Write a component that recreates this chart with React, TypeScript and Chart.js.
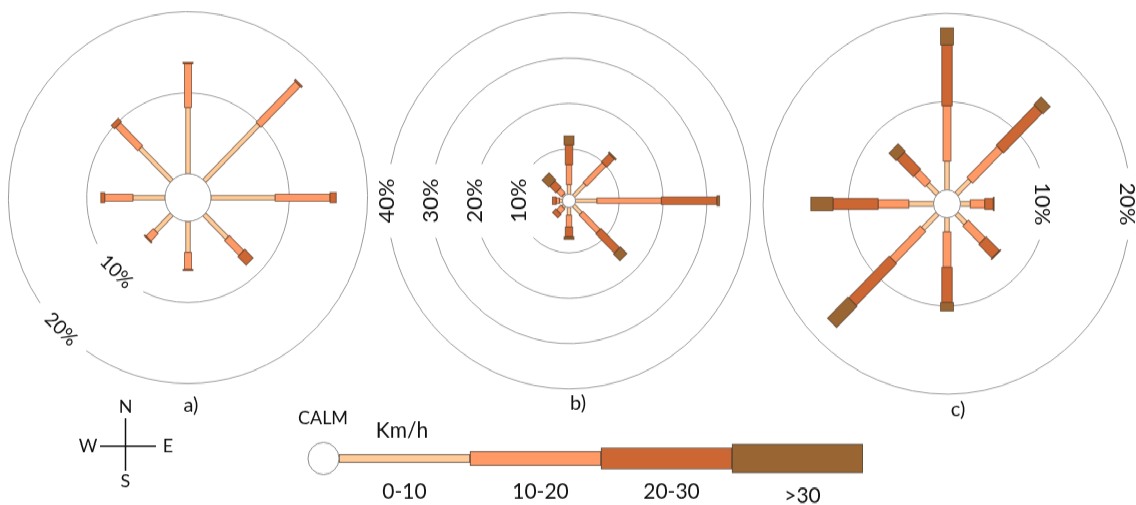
import { useEffect, useRef } from 'react';
import { Chart, registerables } from 'chart.js';

Chart.register(...registerables);

// ---------- data ----------
const DIRECTIONS = ['N', 'NE', 'E', 'SE', 'S', 'SW', 'W', 'NW'];
const SPEED_CLASSES = ['0-10', '10-20', '20-30', '>30'];
const CLASS_COLORS = ['#FFCC99', '#FF9966', '#CC6633', '#996633'];

// frequency (%) per direction (N, NE, E, SE, S, SW, W, NW) and speed class
const ROSE_A_0_10 = [8.2, 9.8, 8.2, 4.1, 3.8, 2.9, 4.1, 5.7];
const ROSE_A_10_20 = [5.4, 7.1, 7.0, 2.6, 2.1, 1.3, 3.6, 4.0];
const ROSE_A_20_30 = [0.2, 0.2, 0.8, 1.5, 0.15, 0.15, 0.5, 0.6];
const ROSE_A_OVER_30 = [0, 0, 0, 0, 0, 0, 0, 0];

const ROSE_B_0_10 = [2.1, 3.65, 4.9, 2.4, 1.7, 0.5, 0.7, 0.4];
const ROSE_B_10_20 = [4.4, 6.2, 14.7, 5.6, 2.6, 1.4, 0.75, 1.5];
const ROSE_B_20_30 = [4.3, 2.5, 12.7, 6.0, 2.2, 1.1, 0.85, 2.0];
const ROSE_B_OVER_30 = [2.05, 0.3, 0.6, 2.1, 0.5, 0, 0, 2.2];

const ROSE_C_0_10 = [3.25, 2.2, 1.15, 1.5, 1.6, 2.4, 2.9, 1.6];
const ROSE_C_10_20 = [6.3, 5.0, 1.7, 2.8, 4.0, 5.0, 3.6, 1.8];
const ROSE_C_20_30 = [6.9, 6.4, 1.0, 2.2, 4.0, 6.7, 5.3, 2.7];
const ROSE_C_OVER_30 = [1.9, 1.2, 0.1, 0.1, 0.95, 3.4, 2.6, 1.2];

const RINGS_A = [10, 20];
const RINGS_B = [10, 20, 30, 40];
const RINGS_C = [10, 20];

const LEGEND_SPAN = [10, 10, 10, 10];
const ROSE_NAMES = ['a)', 'b)', 'c)'];
const COMPASS = ['N', 'E', 'S', 'W'];

// ---------- styles ----------
const FONT = 'Lato, "Open Sans", sans-serif';
const RING_COLOR = '#9c9c9c';
const BAR_EDGE = 'rgba(70,45,30,0.6)';

type RoseCfg = {
  min: number;
  max: number;
  rings: number[];
  widths: number[];
  labelAngle: number;
  labelRotation: number;
  labelFont: number;
  labelShift: number;
};

function rosePlugin(cfg: RoseCfg) {
  return {
    id: 'windRose',
    afterDatasetsDraw(chart: any) {
      const scale = chart.scales.r;
      const ctx = chart.ctx as CanvasRenderingContext2D;
      const cx = scale.xCenter;
      const cy = scale.yCenter;
      ctx.save();
      ctx.font = `${cfg.labelFont}px ${FONT}`;
      const a = ((cfg.labelAngle - 90) * Math.PI) / 180;
      cfg.rings.forEach((v) => {
        const r = scale.getDistanceFromCenterForValue(v);
        const label = v + '%';
        const tw = ctx.measureText(label).width;
        const half = Math.asin(Math.min(1, (tw / 2 + 14) / r));
        ctx.beginPath();
        ctx.arc(cx, cy, r, a + half, a - half + 2 * Math.PI);
        ctx.strokeStyle = RING_COLOR;
        ctx.lineWidth = 1;
        ctx.stroke();
        const rl = r + cfg.labelShift;
        ctx.save();
        ctx.translate(cx + rl * Math.cos(a), cy + rl * Math.sin(a));
        ctx.rotate((cfg.labelRotation * Math.PI) / 180);
        ctx.fillStyle = '#111';
        ctx.textAlign = 'center';
        ctx.textBaseline = 'middle';
        ctx.fillText(label, 0, 0);
        ctx.restore();
      });
      const n = chart.data.labels.length;
      for (let i = 0; i < n; i++) {
        let cum = 0;
        chart.data.datasets.forEach((ds: any, j: number) => {
          const v = ds.data[i];
          if (!v) return;
          const p0 = scale.getPointPositionForValue(i, cum);
          const p1 = scale.getPointPositionForValue(i, cum + v);
          cum += v;
          const len = Math.hypot(p1.x - p0.x, p1.y - p0.y);
          const ang = Math.atan2(p1.y - p0.y, p1.x - p0.x);
          const w = cfg.widths[j];
          ctx.save();
          ctx.translate(p0.x, p0.y);
          ctx.rotate(ang);
          ctx.fillStyle = CLASS_COLORS[j];
          ctx.fillRect(0, -w / 2, len, w);
          ctx.strokeStyle = BAR_EDGE;
          ctx.lineWidth = 1;
          ctx.strokeRect(0, -w / 2, len, w);
          ctx.restore();
        });
      }
      const r0 = scale.getDistanceFromCenterForValue(0);
      ctx.beginPath();
      ctx.arc(cx, cy, r0, 0, 2 * Math.PI);
      ctx.fillStyle = '#fff';
      ctx.fill();
      ctx.strokeStyle = '#8c8c8c';
      ctx.lineWidth = 1;
      ctx.stroke();
      ctx.restore();
    },
  };
}

function makeRose(canvas: HTMLCanvasElement, series: number[][], cfg: RoseCfg) {
  return new Chart(canvas, {
    type: 'radar',
    data: {
      labels: DIRECTIONS,
      datasets: SPEED_CLASSES.map((name, j) => ({
        label: name,
        data: series[j],
        borderColor: 'transparent',
        backgroundColor: 'transparent',
        pointRadius: 0,
        pointHoverRadius: 0,
        showLine: false,
        fill: false,
      })),
    },
    options: {
      animation: false,
      responsive: false,
      devicePixelRatio: 1,
      events: [],
      layout: { padding: 0 },
      plugins: { legend: { display: false }, tooltip: { enabled: false } },
      scales: {
        r: {
          min: cfg.min,
          max: cfg.max,
          beginAtZero: false,
          grid: { display: false },
          angleLines: { display: false },
          pointLabels: { display: false },
          ticks: { display: false },
        },
      },
    } as any,
    plugins: [rosePlugin(cfg)],
  });
}

const legendPlugin = {
  id: 'legendExtras',
  afterDraw(chart: any) {
    const ctx = chart.ctx as CanvasRenderingContext2D;
    const xs = chart.scales.x;
    const ys = chart.scales.y;
    const yc = ys.getPixelForValue(0);
    ctx.save();
    // calm circle
    const rc = 15.5;
    ctx.beginPath();
    ctx.arc(xs.getPixelForValue(0) - rc, yc, rc, 0, 2 * Math.PI);
    ctx.fillStyle = '#fff';
    ctx.fill();
    ctx.strokeStyle = '#8c8c8c';
    ctx.lineWidth = 1;
    ctx.stroke();
    ctx.fillStyle = '#111';
    ctx.textAlign = 'center';
    ctx.textBaseline = 'middle';
    ctx.font = `18px ${FONT}`;
    ctx.fillText('CALM', 323, 34);
    ctx.font = `21px ${FONT}`;
    ctx.fillText('Km/h', 402, 46);
    ctx.font = `21px ${FONT}`;
    let acc = 0;
    SPEED_CLASSES.forEach((name, j) => {
      const mid = acc + LEGEND_SPAN[j] / 2;
      acc += LEGEND_SPAN[j];
      ctx.fillText(name, xs.getPixelForValue(mid) + (j === 0 ? 0 : 5), j === 3 ? 109 : 105);
    });
    // sub-figure names
    ctx.font = `20px ${FONT}`;
    const namePos = [
      [191, 22],
      [578, 20],
      [958, 26],
    ];
    ROSE_NAMES.forEach((t, i) => ctx.fillText(t, namePos[i][0], namePos[i][1]));
    // compass
    ctx.strokeStyle = '#111';
    ctx.lineWidth = 1.5;
    ctx.beginPath();
    ctx.moveTo(125.5, 34);
    ctx.lineTo(125.5, 85);
    ctx.moveTo(100, 61);
    ctx.lineTo(156, 61);
    ctx.stroke();
    ctx.font = `18px ${FONT}`;
    const cp = [
      [125.5, 23],
      [168, 61],
      [125.5, 95],
      [88, 61],
    ];
    COMPASS.forEach((t, i) => ctx.fillText(t, cp[i][0], cp[i][1]));
    ctx.restore();
  },
};

function makeLegend(canvas: HTMLCanvasElement) {
  const thick = [8, 14, 21, 28];
  return new Chart(canvas, {
    type: 'bar',
    data: {
      labels: ['Km/h'],
      datasets: SPEED_CLASSES.map((name, j) => ({
        label: name,
        data: [LEGEND_SPAN[j]],
        backgroundColor: CLASS_COLORS[j],
        borderColor: 'rgba(50,35,25,0.85)',
        borderWidth: 1,
        borderSkipped: false,
        barThickness: thick[j],
      })),
    },
    options: {
      animation: false,
      responsive: false,
      devicePixelRatio: 1,
      events: [],
      indexAxis: 'y',
      layout: { padding: { left: 339, right: 273, top: 53, bottom: 25 } },
      plugins: { legend: { display: false }, tooltip: { enabled: false } },
      scales: {
        x: { stacked: true, min: 0, max: 40, display: false },
        y: { stacked: true, display: false },
      },
    } as any,
    plugins: [legendPlugin],
  });
}

export default function App() {
  const aRef = useRef<HTMLCanvasElement>(null);
  const bRef = useRef<HTMLCanvasElement>(null);
  const cRef = useRef<HTMLCanvasElement>(null);
  const lRef = useRef<HTMLCanvasElement>(null);

  useEffect(() => {
    const charts = [
      makeRose(aRef.current!, [ROSE_A_0_10, ROSE_A_10_20, ROSE_A_20_30, ROSE_A_OVER_30], {
        min: -23 / 7.83,
        max: (190 - 23) / 7.83,
        rings: RINGS_A,
        widths: [4.5, 7, 10, 13],
        labelAngle: 225,
        labelRotation: 45,
        labelFont: 19,
        labelShift: 0,
      }),
      makeRose(bRef.current!, [ROSE_B_0_10, ROSE_B_10_20, ROSE_B_20_30, ROSE_B_OVER_30], {
        min: -6.5 / 4.38,
        max: (190 - 6.5) / 4.38,
        rings: RINGS_B,
        widths: [3.5, 5.5, 7.5, 10],
        labelAngle: 270,
        labelRotation: -90,
        labelFont: 22,
        labelShift: 0,
      }),
      makeRose(cRef.current!, [ROSE_C_0_10, ROSE_C_10_20, ROSE_C_20_30, ROSE_C_OVER_30], {
        min: -13.5 / 8.52,
        max: (190 - 13.5) / 8.52,
        rings: RINGS_C,
        widths: [4.5, 8, 10.5, 13],
        labelAngle: 90,
        labelRotation: 90,
        labelFont: 21,
        labelShift: -4,
      }),
      makeLegend(lRef.current!),
    ];
    return () => charts.forEach((c) => c.destroy());
  }, []);

  const abs = (left: number, top: number) => ({ position: 'absolute' as const, left, top });

  return (
    <div style={{ position: 'relative', width: 1136, height: 505, overflow: 'hidden' }}>
      <style>{'html,body{margin:0;padding:0;background:#fff}html{overflow:hidden}'}</style>
      <div
        style={{
          position: 'absolute',
          left: 0,
          top: 0,
          width: 1136,
          height: 488,
          transform: 'scaleY(1.035)',
          transformOrigin: '0 0',
        }}
      >
        <canvas ref={aRef} width={380} height={380} style={abs(-2, 1)} />
        <canvas ref={bRef} width={380} height={380} style={abs(379, 4)} />
        <canvas ref={cRef} width={380} height={380} style={abs(757, 7)} />
        <canvas ref={lRef} width={1136} height={118} style={abs(0, 370)} />
      </div>
    </div>
  );
}
